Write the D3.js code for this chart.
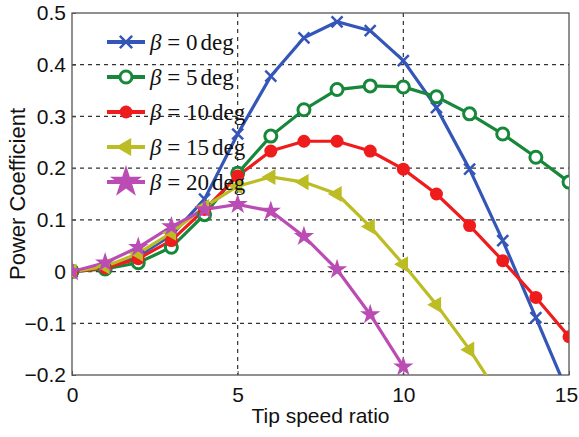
<!DOCTYPE html>
<html>
<head>
<meta charset="utf-8">
<script src="https://cdn.jsdelivr.net/npm/d3@7"></script>
<style>
  body { margin: 0; background: #fff; }
</style>
</head>
<body>
<div id="chart"></div>
<script>
// data
var tsr = [0, 1, 2, 3, 4, 5, 6, 7, 8, 9, 10, 11, 12, 13, 14, 15];
var pitchLabels = ["0", "5", "10", "15", "20"];
var cp0  = [0, 0.01, 0.03, 0.07, 0.14, 0.266, 0.378, 0.452, 0.483, 0.466, 0.408, 0.317, 0.198, 0.060, -0.089, -0.24];
var cp5  = [0, 0.005, 0.017, 0.047, 0.11, 0.19, 0.262, 0.313, 0.352, 0.359, 0.357, 0.338, 0.305, 0.266, 0.221, 0.173];
var cp10 = [0, 0.007, 0.025, 0.06, 0.12, 0.185, 0.233, 0.252, 0.252, 0.233, 0.198, 0.150, 0.089, 0.021, -0.050, -0.126];
var cp15 = [0, 0.01, 0.035, 0.075, 0.125, 0.165, 0.183, 0.173, 0.150, 0.087, 0.014, -0.064, -0.151, -0.25];
var cp20 = [0, 0.017, 0.047, 0.087, 0.12, 0.13, 0.117, 0.068, 0.004, -0.083, -0.184];
var xTicks = [0, 5, 10, 15];
var yTicks = [-0.2, -0.1, 0, 0.1, 0.2, 0.3, 0.4, 0.5];

var sans = "Arial, 'Liberation Sans', sans-serif";
var serif = "'Liberation Serif', 'Times New Roman', serif";

var svgWidth = 579, svgHeight = 437;
var margin = { top: 13, right: 10, bottom: 62, left: 72 };
var width = svgWidth - margin.left - margin.right;
var height = svgHeight - margin.top - margin.bottom;

var svg = d3.select("#chart").append("svg")
  .attr("width", svgWidth)
  .attr("height", svgHeight);

var chartGroup = svg.append("g")
  .attr("transform", `translate(${margin.left}, ${margin.top})`);

var x = d3.scaleLinear().domain([0, 15]).range([0, width]);
var y = d3.scaleLinear().domain([-0.2, 0.5]).range([height, 0]);

// grid
chartGroup.append("g")
  .selectAll("line")
  .data(xTicks.slice(1, -1))
  .enter().append("line")
  .attr("x1", d => x(d)).attr("x2", d => x(d))
  .attr("y1", 0).attr("y2", height)
  .attr("stroke", "#333").attr("stroke-width", 1.2)
  .attr("stroke-dasharray", "4,4");

chartGroup.append("g")
  .selectAll("line")
  .data(yTicks.slice(1, -1))
  .enter().append("line")
  .attr("x1", 0).attr("x2", width)
  .attr("y1", d => y(d)).attr("y2", d => y(d))
  .attr("stroke", "#333").attr("stroke-width", 1.2)
  .attr("stroke-dasharray", "4,4");

// axes (ticks point inward like matlab)
var bottomAxis = d3.axisBottom(x).tickValues(xTicks).tickSizeInner(-4).tickSizeOuter(0)
  .tickPadding(12).tickFormat(d3.format("d"));
var leftAxis = d3.axisLeft(y).tickValues(yTicks).tickSizeInner(-4).tickSizeOuter(0)
  .tickPadding(6).tickFormat(d => d === 0 ? "0" : d3.format(".1f")(d));

chartGroup.append("g")
  .attr("transform", `translate(0, ${height})`)
  .call(bottomAxis)
  .call(g => g.select(".domain").remove())
  .call(g => g.selectAll("line").attr("stroke", "#555"))
  .selectAll("text").attr("font-size", 21).attr("font-family", sans).attr("fill", "#111")
  .attr("dx", d => d === 15 ? -3 : 0);

chartGroup.append("g")
  .call(leftAxis)
  .call(g => g.select(".domain").remove())
  .call(g => g.selectAll("line").attr("stroke", "#555"))
  .selectAll("text").attr("font-size", 21).attr("font-family", sans).attr("fill", "#111");

// frame
chartGroup.append("rect")
  .attr("width", width).attr("height", height)
  .attr("fill", "none").attr("stroke", "#555").attr("stroke-width", 1.3);

svg.append("defs").append("clipPath").attr("id", "plotclip")
  .append("rect").attr("width", width).attr("height", height);

var series = [
  { label: pitchLabels[0], values: cp0,  color: "#3456b8", marker: "cross" },
  { label: pitchLabels[1], values: cp5,  color: "#17883a", marker: "ocircle" },
  { label: pitchLabels[2], values: cp10, color: "#ee1c1c", marker: "circle" },
  { label: pitchLabels[3], values: cp15, color: "#bcbc25", marker: "triangle" },
  { label: pitchLabels[4], values: cp20, color: "#bb4cb3", marker: "star" }
];

var line = d3.line().x(d => x(d[0])).y(d => y(d[1]));

function drawMarker(g, type, color, size) {
  if (type === "cross") {
    g.append("path").attr("d", d3.symbol().type(d3.symbolX).size(size)())
      .attr("stroke", color).attr("stroke-width", 2.5).attr("fill", "none");
  } else if (type === "ocircle") {
    g.append("circle").attr("r", 6).attr("fill", "#fff")
      .attr("stroke", color).attr("stroke-width", 3);
  } else if (type === "circle") {
    g.append("circle").attr("r", 6.5).attr("fill", color);
  } else if (type === "triangle") {
    g.append("path").attr("d", d3.symbol().type(d3.symbolTriangle).size(size * 1.4)())
      .attr("transform", "rotate(-90)")
      .attr("fill", color);
  } else if (type === "star") {
    g.append("path").attr("d", d3.symbol().type(d3.symbolStar).size(size * 1.6)())
      .attr("fill", color);
  }
}

var plot = chartGroup.append("g").attr("clip-path", "url(#plotclip)");

series.forEach(function(s) {
  var pts = s.values.map((v, i) => [tsr[i], v]);
  plot.append("path")
    .datum(pts)
    .attr("d", line)
    .attr("fill", "none")
    .attr("stroke", s.color)
    .attr("stroke-width", 3.2);
});

// markers on top
series.forEach(function(s) {
  var pts = s.values.map((v, i) => [tsr[i], v]).filter(p => p[1] >= -0.2);
  pts.forEach(function(p) {
    var g = plot.append("g").attr("transform", `translate(${x(p[0])}, ${y(p[1])})`);
    drawMarker(g, s.marker, s.color, 80);
  });
});

// legend (no box)
var legend = svg.append("g");
series.forEach(function(s, i) {
  var ly = 42 + i * 35;
  var row = legend.append("g").attr("transform", `translate(0, ${ly})`);
  row.append("line")
    .attr("x1", 107).attr("x2", 145)
    .attr("stroke", s.color).attr("stroke-width", 4);
  var mg = row.append("g").attr("transform", "translate(126, 0)");
  drawMarker(mg, s.marker, s.color, i === 4 ? 200 : 100);
  var t = row.append("text")
    .attr("x", 150).attr("y", 8)
    .attr("font-family", serif)
    .attr("font-size", 23)
    .attr("fill", "#111");
  t.append("tspan").attr("font-style", "italic").text("\u03b2");
  t.append("tspan").text(" = " + s.label);
  t.append("tspan").attr("dx", 3).text("deg");
});

// axis labels
svg.append("text")
  .attr("x", margin.left + width / 2)
  .attr("y", 423)
  .attr("text-anchor", "middle")
  .attr("font-family", sans)
  .attr("font-size", 21)
  .attr("fill", "#111")
  .text("Tip speed ratio");

svg.append("text")
  .attr("transform", `translate(25, ${margin.top + height / 2}) rotate(-90)`)
  .attr("text-anchor", "middle")
  .attr("font-family", sans)
  .attr("font-size", 22)
  .attr("fill", "#111")
  .text("Power Coefficient");
</script>
</body>
</html>
